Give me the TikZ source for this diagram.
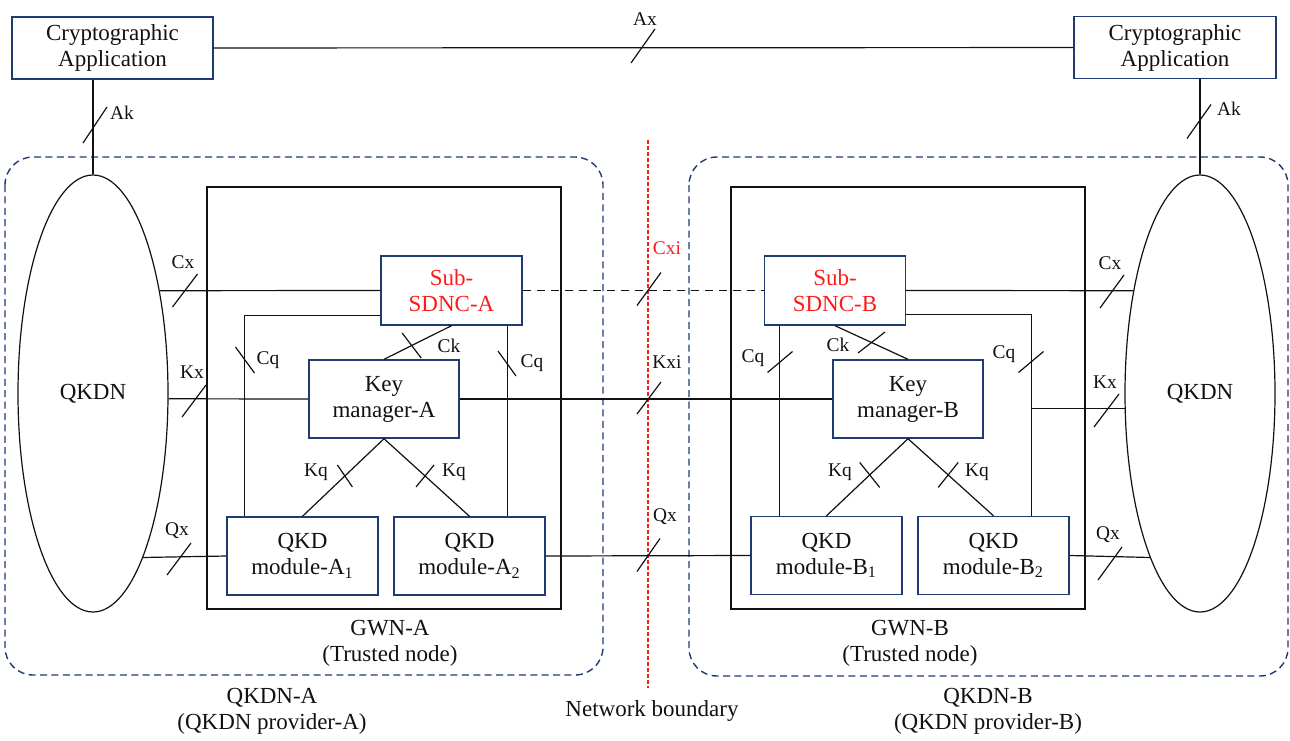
\documentclass[tikz,border=0pt]{standalone}
\usepackage{fontspec}
\setmainfont{Liberation Serif}
\usetikzlibrary{positioning,calc,shapes.geometric}
\definecolor{cnavy}{HTML}{1F3B73}
\definecolor{cred}{HTML}{FF1A1A}
\definecolor{cink}{HTML}{111111}

% short stroke across an interface line
\newcommand{\ifcut}[3]{\draw[cutline] #1 ++({-(#2)},{-(#3)}) -- ++({2*(#2)},{2*(#3)});}

\begin{document}
\begin{tikzpicture}[x=0.5pt,y=-0.5pt,
    every node/.style={font=\fontsize{11.5pt}{13pt}\selectfont,text=cink},
    bluebox/.style={draw=cnavy,line width=0.7pt,align=center,inner sep=0pt},
    appbox/.style={bluebox,minimum width=100.5pt,minimum height=31pt},
    sdncbox/.style={bluebox,minimum width=70.5pt,minimum height=34.5pt,text=cred},
    kmbox/.style={bluebox,minimum width=75pt,minimum height=39pt},
    modbox/.style={bluebox,minimum width=75.5pt,minimum height=39pt},
    gwnbox/.style={draw=cink,line width=0.7pt,minimum width=177pt,minimum height=211pt,inner sep=0pt},
    netell/.style={ellipse,draw=cink,line width=0.6pt,minimum width=75pt,minimum height=218.5pt,inner sep=0pt},
    zonebox/.style={draw=cnavy,line width=0.7pt,dash pattern=on 3.5pt off 2.2pt,rounded corners=14pt},
    boundary/.style={draw=cred,line width=0.6pt,dash pattern=on 2pt off 1pt},
    link/.style={draw=cink,line width=0.6pt},
    cutline/.style={draw=cink,line width=0.6pt},
    lbl/.style={font=\fontsize{9.7pt}{11pt}\selectfont,inner sep=0pt}]
  \useasboundingbox (0,0) rectangle (1290,740);

  % provider domains
  \draw[zonebox] (5,157) rectangle (603,675);
  \draw[zonebox] (689,157) rectangle (1288,676);
  \draw[boundary] (648,140) -- (648,688);

  % applications and networks
  \node[appbox] (appA) at (112.5,48) {Cryptographic\\Application};
  \node[appbox,minimum width=101pt] (appB) at (1175,47.5) {Cryptographic\\Application};
  \node[netell] (qkdnA) at (93,393.5) {QKDN};
  \node[netell] (qkdnB) at (1200,393.5) {QKDN};

  % gateway nodes
  \node[gwnbox] (gwnA) at (384,398) {};
  \node[gwnbox] (gwnB) at (908,398) {};
  \node[sdncbox] (sdncA) at (451.5,290.5) {Sub-\\SDNC-A};
  \node[sdncbox] (sdncB) at (835,290.5) {Sub-\\SDNC-B};
  \node[kmbox] (kmA) at (384,399) {Key\\manager-A};
  \node[kmbox] (kmB) at (908,399) {Key\\manager-B};
  \node[modbox] (modA1) at (302.5,556) {QKD\\module-A\textsubscript{1}};
  \node[modbox] (modA2) at (469.5,556) {QKD\\module-A\textsubscript{2}};
  \node[modbox] (modB1) at (826.5,555.5) {QKD\\module-B\textsubscript{1}};
  \node[modbox] (modB2) at (993.5,555.5) {QKD\\module-B\textsubscript{2}};

  % captions
  \node[align=center] (gwnAlbl) at (390,643) {GWN-A\\(Trusted node)};
  \node[align=center] (gwnBlbl) at (910,643) {GWN-B\\(Trusted node)};
  \node[align=center] (provA) at (272,711) {QKDN-A\\(QKDN provider-A)};
  \node[align=center] (provB) at (988,711) {QKDN-B\\(QKDN provider-B)};
  \node (nbound) at (652,711) {Network boundary};

  % links
  \draw[link] (appA) -- (appB);
  \draw[link] (qkdnA.north) -- (qkdnA.north |- appA.south);
  \draw[link] (qkdnB.north) -- (qkdnB.north |- appB.south);
  \draw[link] (qkdnA.57) -- (sdncA.west);
  \draw[link] (qkdnA.-4) -- (kmA.west);
  \draw[link] (qkdnA.-73) -- (modA1.west);
  \draw[link,dash pattern=on 4pt off 3pt] (sdncA.east) -- (sdncB.west);
  \draw[link] (kmA.east) -- (kmB.west);
  \draw[link] (modA2.east) -- (modB1.west);
  \draw[link] (sdncB.east) -- (qkdnB.123);
  \draw[link] (modB2.east) -- (qkdnB.253);

  \coordinate (cqAl) at ([xshift=9pt]modA1.north west);
  \coordinate (cqAr) at ([xshift=-7.5pt]sdncA.south east);
  \coordinate (cqBl) at ([xshift=8pt]sdncB.south west);
  \coordinate (cqBr) at ([xshift=-19pt]modB2.north east);
  \draw[link] ([yshift=5pt]sdncA.south west) -| (cqAl);
  \draw[link] (cqAr) -- (cqAr |- modA2.north);
  \draw[link] (cqBl) -- (cqBl |- modB1.north);
  \draw[link] ([yshift=5.5pt]sdncB.south east) -| (cqBr);
  \draw[link] (qkdnB.191) -- (qkdnB.191 -| cqBr);

  \draw[link] (sdncA.south) -- (kmA.north);
  \draw[link] (sdncB.south) -- (kmB.north);
  \draw[link] (kmA.south) -- (modA1.north);
  \draw[link] (kmA.south) -- (modA2.north);
  \draw[link] (kmB.south) -- (modB1.north);
  \draw[link] (kmB.south) -- (modB2.north);

  % interface strokes
  \ifcut{(643,46)}{12}{-17}
  \ifcut{(95,125)}{12}{-18}
  \ifcut{(1199,121.5)}{12}{-17}
  \ifcut{(185,290.5)}{12.5}{-16.5}
  \ifcut{(194,401)}{12}{-16}
  \ifcut{(179,559)}{12}{-16}
  \ifcut{(649,289)}{12}{-16.5}
  \ifcut{(649,398)}{12}{-16}
  \ifcut{(648.5,555)}{11.5}{-16.5}
  \ifcut{(1112,291.5)}{12}{-16.5}
  \ifcut{(1106.5,410.5)}{12.5}{-16.5}
  \ifcut{(1110,563.5)}{12}{-16.5}
  \ifcut{(245,360)}{9.5}{13}
  \ifcut{(507,363.5)}{9}{12.5}
  \ifcut{(780,362)}{12.5}{-10.5}
  \ifcut{(1031,362)}{12.5}{-10.5}
  \ifcut{($(sdncA.south)!0.59!(kmA.north)$)}{9.5}{12.5}
  \ifcut{($(sdncB.south)!0.5!(kmB.north)$)}{13.5}{-10.5}
  \ifcut{($(kmA.south)!0.48!(modA1.north)$)}{7.5}{11}
  \ifcut{($(kmA.south)!0.48!(modA2.north)$)}{9}{-11}
  \ifcut{($(kmB.south)!0.47!(modB1.north)$)}{10}{12.5}
  \ifcut{($(kmB.south)!0.47!(modB2.north)$)}{10}{-12.5}

  % interface labels
  \node[lbl] (lAx) at (645,19) {Ax};
  \node[lbl] (lAkA) at (122,113) {Ak};
  \node[lbl] (lAkB) at (1229,109) {Ak};
  \node[lbl] (lCxA) at (183,262) {Cx};
  \node[lbl] (lKxA) at (192,372) {Kx};
  \node[lbl] (lQxA) at (177,531) {Qx};
  \node[lbl] (lCqA1) at (268,360) {Cq};
  \node[lbl] (lCqA2) at (532,363) {Cq};
  \node[lbl] (lCkA) at (449,346) {Ck};
  \node[lbl] (lKqA1) at (316,472) {Kq};
  \node[lbl] (lKqA2) at (454,472) {Kq};
  \node[lbl,text=cred] (lCxi) at (667,248) {Cxi};
  \node[lbl] (lKxi) at (667,362) {Kxi};
  \node[lbl] (lQx) at (665,517) {Qx};
  \node[lbl] (lCxB) at (1110,263) {Cx};
  \node[lbl] (lKxB) at (1105,382) {Kx};
  \node[lbl] (lQxB) at (1108,535) {Qx};
  \node[lbl] (lCqB1) at (753,358) {Cq};
  \node[lbl] (lCqB2) at (1004,354) {Cq};
  \node[lbl] (lCkB) at (838,345) {Ck};
  \node[lbl] (lKqB1) at (840,472) {Kq};
  \node[lbl] (lKqB2) at (977,472) {Kq};
\end{tikzpicture}
\end{document}
